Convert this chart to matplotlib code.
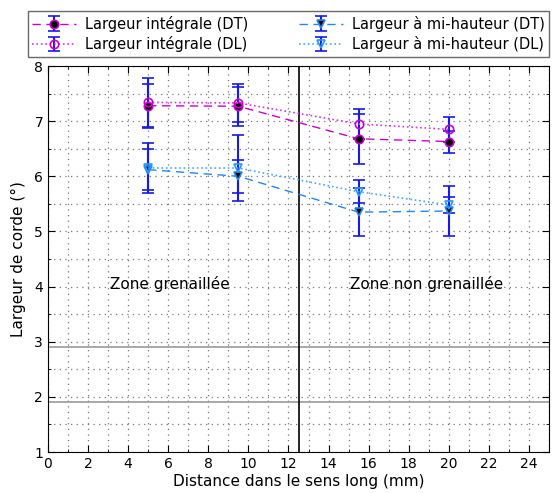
import matplotlib
matplotlib.use("Agg")
import matplotlib.pyplot as plt
from matplotlib.ticker import MultipleLocator

x = [5, 9.5, 15.5, 20]
int_dt = [7.28, 7.27, 6.68, 6.63]
int_dt_err = [0.40, 0.35, 0.45, 0.20]
int_dl = [7.34, 7.33, 6.95, 6.85]
int_dl_err = [0.44, 0.35, 0.27, 0.22]
fw_dt = [6.12, 6.00, 5.35, 5.37]
fw_dt_err = [0.37, 0.30, 0.44, 0.45]
fw_dl = [6.15, 6.15, 5.72, 5.48]
fw_dl_err = [0.45, 0.60, 0.21, 0.15]
hlines = [2.9, 1.9]
vline = 12.5

fig = plt.figure(figsize=(5.53, 4.93), dpi=100)
ax = fig.add_axes([48/553, 1-452/493, (549-48)/553, (452-66)/493])

ecol = '#1a1ae6'
common = dict(ecolor=ecol, elinewidth=1.5, capsize=4, capthick=1.5, markersize=6, markeredgewidth=1.2)
ax.errorbar(x, int_dt, yerr=int_dt_err, fmt='o', ls=(0, (6, 4)), color='#cc00cc', lw=1,
            markerfacecolor='black', markeredgecolor='#cc00cc', label='Largeur intégrale (DT)', **common)
ax.errorbar(x, int_dl, yerr=int_dl_err, fmt='o', ls=':', color='#dd33dd', lw=1.2,
            markerfacecolor='none', markeredgecolor='#cc00cc', label='Largeur intégrale (DL)', **common)
ax.errorbar(x, fw_dt, yerr=fw_dt_err, fmt='v', ls=(0, (6, 4)), color='#2288ee', lw=1,
            markerfacecolor='black', markeredgecolor='#2288ee', label='Largeur à mi-hauteur (DT)', **common)
ax.errorbar(x, fw_dl, yerr=fw_dl_err, fmt='v', ls=':', color='#44aaff', lw=1.2,
            markerfacecolor='none', markeredgecolor='#2299ff', label='Largeur à mi-hauteur (DL)', **common)

for h in hlines:
    ax.axhline(h, color='#999999', lw=1.2, zorder=1)
ax.axvline(vline, color='black', lw=1.2, zorder=1)

ax.text(6.1, 4.05, 'Zone grenaillée', ha='center', va='center', fontsize=11)
ax.text(18.9, 4.05, 'Zone non grenaillée', ha='center', va='center', fontsize=11)

ax.set_xlim(0, 25)
ax.set_ylim(1, 8)
ax.xaxis.set_major_locator(MultipleLocator(2))
ax.xaxis.set_minor_locator(MultipleLocator(1))
ax.yaxis.set_major_locator(MultipleLocator(1))
ax.yaxis.set_minor_locator(MultipleLocator(0.5))
ax.grid(True, which='both', ls=(0, (1, 3.5)), color='#777777', lw=0.9)
ax.set_axisbelow(True)
ax.tick_params(which='both', direction='in', top=True, right=True, labelsize=10)
ax.tick_params(which='major', length=5)
ax.tick_params(which='minor', length=2.5)
ax.set_xlabel('Distance dans le sens long (mm)', fontsize=11, labelpad=2)
ax.set_ylabel('Largeur de corde (°)', fontsize=11, labelpad=6)

leg = fig.legend(loc='center', bbox_to_anchor=(28/553, 1-59/493, 521/553, 50/493), ncol=2,
                 fontsize=10.5, frameon=True, fancybox=False, edgecolor='#444444',
                 handlelength=3.0, columnspacing=2.0, borderaxespad=0, mode='expand',
                 handletextpad=0.6, labelspacing=0.3, borderpad=0.3)
leg.get_frame().set_linewidth(1.0)

fig.savefig('out.png', dpi=100)
